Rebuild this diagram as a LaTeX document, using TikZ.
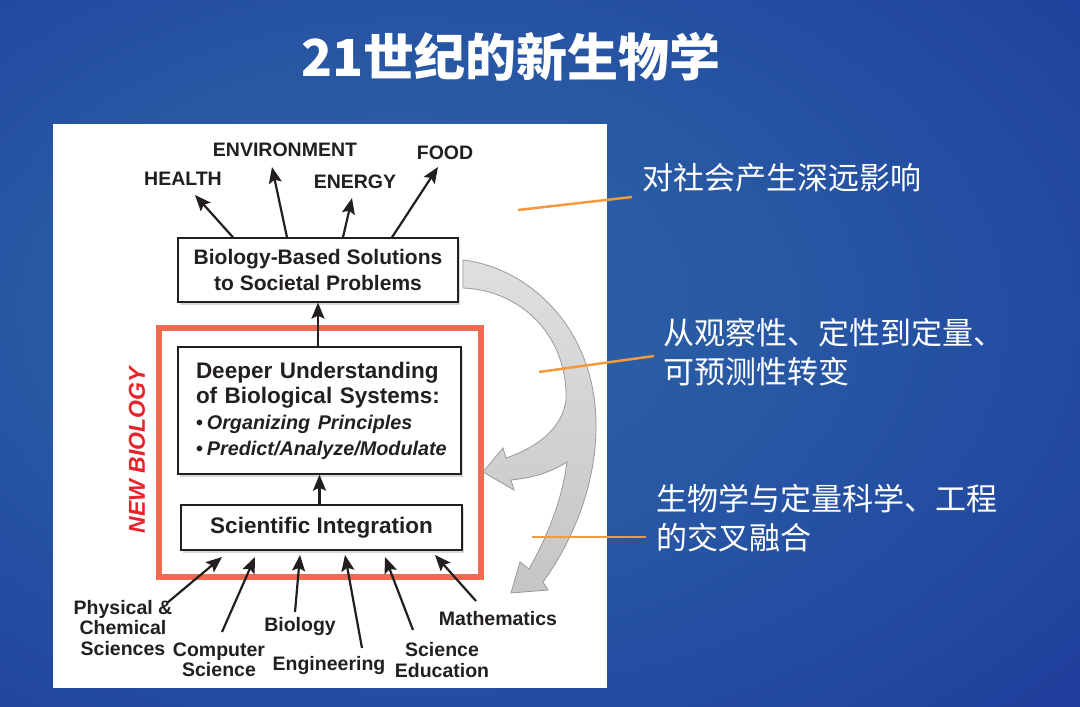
\documentclass[tikz,border=0pt]{standalone}
\usepackage{fontspec}
\setmainfont{Liberation Sans}
\newfontfamily\cjk{Noto Sans CJK SC}
\usetikzlibrary{arrows.meta,shadows}

\definecolor{bgcenter}{HTML}{2A5DA5}
\definecolor{bgmid}{HTML}{2248A0}
\definecolor{bgedge}{HTML}{1A2A92}
\definecolor{bgdark}{HTML}{131A8A}
\definecolor{nbred}{HTML}{E8232B}
\definecolor{framered}{HTML}{F06B4F}
\definecolor{callout}{HTML}{F39A3E}
\definecolor{ink}{HTML}{231F20}

\pgfdeclareradialshading{slidebg}{\pgfpoint{-8bp}{4bp}}{color(0bp)=(bgcenter); color(12bp)=(bgcenter); color(32bp)=(bgmid); color(52bp)=(bgedge); color(75bp)=(bgdark)}

\newcommand\boxfont{\bfseries\fontsize{21}{25.5}\selectfont}
\newcommand\deepfont{\bfseries\fontsize{22.5}{25.7}\selectfont}
\newcommand\bulletfont{\bfseries\fontsize{19.8}{25.7}\selectfont}
\newcommand\topicfont{\bfseries\fontsize{19.5}{20.5}\selectfont}
\newcommand\notefont{\cjk\fontsize{31}{39}\selectfont}

\tikzset{
  box/.style={draw=ink, line width=1.3pt, fill=white, text=ink, font=\boxfont,
    drop shadow={shadow xshift=2pt, shadow yshift=-3pt, opacity=0.3}},
  topic/.style={text=ink, font=\topicfont, inner sep=0pt, align=center},
  arr/.style={-{Stealth[length=16pt,width=13pt,inset=3pt]}, line width=2.2pt, draw=ink},
  note/.style={text=white, font=\notefont, anchor=west, align=left, inner sep=0pt},
  pointer/.style={draw=callout, line width=2.5pt}
}

\begin{document}
\begin{tikzpicture}[x=1pt,y=-1pt]
    % background and white panel
    \useasboundingbox (0,0) rectangle (1080,707);
    \shade[shading=slidebg] (0,0) rectangle (1080,707);
    \fill[white] (53,124) rectangle (607,688);

    % title
    \node[text=white, font=\cjk\bfseries\fontsize{51}{56}\selectfont] (title) at (511,57) {21世纪的新生物学};

    % new biology frame
    \draw[framered, line width=6pt] (159,328) rectangle (481,577);
    \node[rotate=90, text=nbred, font=\bfseries\itshape\fontsize{23}{25}\selectfont] (newbio) at (137,450) {NEW BIOLOGY};

    % boxes
    \node[box, minimum width=280pt, minimum height=64pt, align=center] (solutions) at (318,270) {Biology-Based Solutions\\to Societal Problems};
    \node[box, minimum width=283pt, minimum height=127pt, text width=247pt, inner xsep=18pt, align=left, font=\deepfont] (deeper) at (319.5,410.5) {\mbox{Deeper Understanding}\\\mbox{of Biological Systems:}\\\mbox{\bulletfont\textbullet\hspace{0.2em}\textit{Organizing Principles}}\\\mbox{\bulletfont\textbullet\hspace{0.2em}\textit{Predict/Analyze/Modulate}}};
    \node[box, minimum width=281pt, minimum height=45pt, font=\deepfont] (integration) at (321.5,527.5) {Scientific Integration};

    \draw[arr] (deeper.north -| solutions.south) -- (solutions.south);
    \draw[arr] (integration.north -| deeper.south) -- (deeper.south);

    % topics on top
    \node[topic] (health) at (183,179) {HEALTH};
    \node[topic] (environment) at (285,150) {ENVIRONMENT};
    \node[topic] (energy) at (355,182) {ENERGY};
    \node[topic] (food) at (445,153) {FOOD};

    \coordinate (health-tip) at (195,195);
    \coordinate (environment-tip) at (272,167);
    \coordinate (energy-tip) at (352,198);
    \coordinate (food-tip) at (438,167);
    \foreach \n/\bx in {health/233, environment/287, energy/343, food/392}
    \draw[arr] (solutions.north -| \bx,0) -- (\n-tip);

    % disciplines at the bottom
    \node[topic] (phys) at (123,628) {Physical \&\\Chemical\\Sciences};
    \node[topic] (comp) at (219,660) {Computer\\Science};
    \node[topic] (biology) at (300,626) {Biology};
    \node[topic] (engin) at (329,665) {Engineering};
    \node[topic] (scied) at (442,660) {Science\\Education};
    \node[topic] (math) at (498,619) {Mathematics};

    \foreach \n/\tx/\ty/\hx/\hy in {phys/167/603/222/557, comp/222/632/255/557, biology/295/612/300/555, engin/362/648/345/555, scied/413/630/385/557, math/476/601/435/555}
    {
      \coordinate (\n-tail) at (\tx,\ty);
      \coordinate (\n-tip) at (\hx,\hy);
      \draw[arr] (\n-tail) -- (\n-tip);
    }

    % grey feedback arrow
    \shadedraw[top color=gray!25, bottom color=gray!45, draw=gray!80, line width=0.8pt]
      (463,260) .. controls (530,268) and (598,330) .. (596,430)
      .. controls (595,490) and (570,545) .. (543,582)
      -- (548,590) -- (511,593) -- (520,562) -- (529,569)
      .. controls (548,535) and (562,500) .. (567,462)
      .. controls (548,474) and (530,478) .. (511,480)
      -- (514,490) -- (483,472) -- (503,448) -- (506,458)
      .. controls (535,448) and (562,430) .. (566,400)
      .. controls (568,335) and (520,290) .. (463,288) -- cycle;

    % notes on the right
    \node[note] (impact) at (642,178) {对社会产生深远影响};
    \node[note] (shift) at (663,352.5) {从观察性、定性到定量、\\可预测性转变};
    \node[note] (fusion) at (656,518.5) {生物学与定量科学、工程\\的交叉融合};

    \coordinate (impact-a) at (518,210);
    \coordinate (impact-b) at (632,197);
    \coordinate (shift-a) at (539,372);
    \coordinate (shift-b) at (654,356);
    \coordinate (fusion-a) at (532,537);
    \coordinate (fusion-b) at (646,537);
    \foreach \n in {impact, shift, fusion}
    \draw[pointer] (\n-a) -- (\n-b);
\end{tikzpicture}
\end{document}
